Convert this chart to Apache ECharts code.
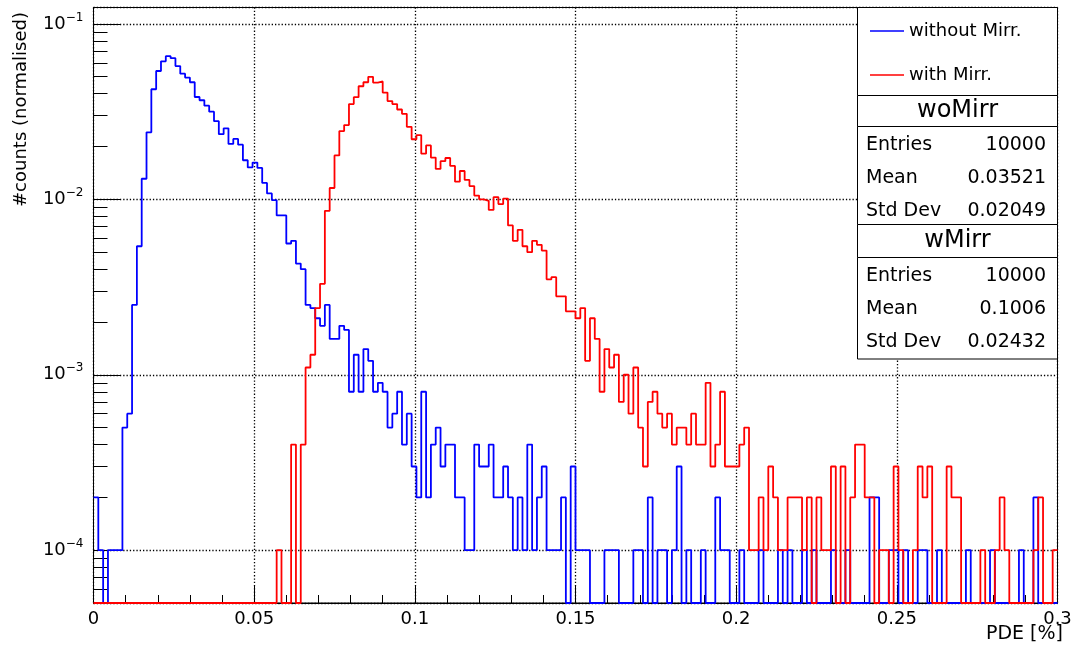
<!DOCTYPE html>
<html>
<head>
<meta charset="utf-8">
<script src="https://cdn.jsdelivr.net/npm/echarts@6/dist/echarts.min.js"></script>
<style>
html,body{margin:0;padding:0;background:#fff;}
#chart{width:1078px;height:651px;}
</style>
</head>
<body>
<div id="chart"></div>
<script>
// Histogram definition (ROOT TH1: 200 bins in [0, 0.3])
const X_MIN = 0, X_MAX = 0.3, N_BINS = 200;
const Y_MIN = 5e-5, Y_MAX = 0.124;

const seriesNames = ['without Mirr.', 'with Mirr.'];
const xTitle = 'PDE [%]';
const yTitle = '#counts (normalised)';

// bin contents (normalised), "without Mirr." (woMirr)
const woMirr = [
0.0002,0.0001,0,0.0001,0.0001,0.0001,0.0005,0.0006,0.0025,0.0054,
0.0131,0.0241,0.0424,0.0539,0.0612,0.0655,0.0638,0.0575,0.0520,0.0494,
0.0465,0.0383,0.0367,0.0342,0.0316,0.0279,0.0235,0.0254,0.0207,0.0221,
0.0205,0.0167,0.0152,0.0162,0.0151,0.0124,0.0108,0.0099,0.0081,0.0081,
0.0056,0.0058,0.0043,0.0040,0.0025,0.0024,0.0021,0.0019,0.0025,0.0016,
0.0016,0.0019,0.0018,0.0008,0.0013,0.0008,0.0014,0.0012,0.0008,0.0009,
0.0008,0.0005,0.0006,0.0008,0.0004,0.0006,0.0003,0.0002,0.0008,0.0002,
0.0004,0.0005,0.0003,0.0004,0.0004,0.0002,0.0002,0.0001,0.0001,0.0004,
0.0003,0.0003,0.0004,0.0002,0.0002,0.0003,0.0002,0.0001,0.0002,0.0001,
0.0004,0.0001,0.0002,0.0003,0.0001,0.0001,0.0001,0.0002,0,0.0003,
0.0001,0.0001,0.0001,0,0,0,0.0001,0.0001,0.0001,0,
0,0,0.0001,0.0001,0,0.0002,0,0.0001,0.0001,0,
0.0001,0.0003,0,0.0001,0,0,0.0001,0,0,0.0002,
0.0001,0.0001,0,0,0.0001,0,0,0,0.0001,0,
0,0,0.0001,0,0.0001,0,0,0.0001,0,0.0001,
0,0,0,0.0001,0,0,0.0001,0,0,0,
0,0.0002,0.0002,0,0,0.0001,0.0001,0,0.0001,0,
0,0.0001,0.0001,0,0,0.0001,0,0,0,0,
0,0.0001,0,0,0,0,0.0001,0,0,0,
0,0,0.0001,0,0,0.0002,0,0,0,0
];

// bin contents (normalised), "with Mirr." (wMirr)
const wMirr = [
0,0,0,0,0,0,0,0,0,0,
0,0,0,0,0,0,0,0,0,0,
0,0,0,0,0,0,0,0,0,0,
0,0,0,0,0,0,0,0,0.0001,0,
0,0.0004,0,0.0004,0.0011,0.0013,0.0024,0.0033,0.0086,0.0116,
0.0178,0.0245,0.0265,0.0349,0.0382,0.0441,0.0465,0.0499,0.0463,0.0470,
0.0406,0.0363,0.0349,0.0325,0.0307,0.0259,0.0220,0.0232,0.0182,0.0203,
0.0173,0.0149,0.0165,0.0172,0.0155,0.0126,0.0145,0.0129,0.0119,0.0105,
0.0100,0.0098,0.0087,0.0103,0.0094,0.0101,0.0071,0.0058,0.0067,0.0054,
0.0050,0.0058,0.0055,0.0051,0.0035,0.0036,0.0028,0.0028,0.0023,0.0023,
0.0021,0.0024,0.0012,0.0021,0.0016,0.0008,0.0014,0.0011,0.0013,0.0007,
0.0010,0.0006,0.0011,0.0005,0.0003,0.0007,0.0008,0.0006,0.0005,0.0006,
0.0004,0.0005,0.0005,0.0004,0.0006,0.0004,0.0004,0.0009,0.0003,0.0004,
0.0008,0.0003,0.0003,0.0003,0.0004,0.0005,0.0001,0.0001,0.0002,0.0001,
0.0003,0.0002,0.0001,0.0001,0.0002,0.0002,0.0002,0.0001,0.0002,0,
0.0002,0.0001,0.0001,0.0003,0,0.0003,0,0.0002,0.0004,0.0004,
0.0002,0.0002,0,0.0001,0.0001,0,0.0003,0.0001,0,0,
0.0001,0.0003,0.0002,0.0003,0,0,0,0.0003,0.0002,0.0002,
0,0,0,0,0.0001,0,0,0.0001,0.0002,0.0001,
0,0,0,0,0,0.0001,0.0002,0,0,0.0001
];

// Statistics boxes
const statTitles = ['woMirr', 'wMirr'];
const statLabels = ['Entries', 'Mean', 'Std Dev'];
const statValues = [
  ['10000', '0.03521', '0.02049'],
  ['10000', '0.1006', '0.02432']
];

// Axis ticks
const xTickInterval = 0.05;
const yMajorExps = [-4, -3, -2, -1];

const FONT = 'DejaVu Sans';
const binWidth = (X_MAX - X_MIN) / N_BINS;

function histPoints(vals) {
  // zero bins are drawn on the lower frame edge, as ROOT does on a log scale
  const pts = vals.map((v, i) => [X_MIN + i * binWidth, Math.max(v, Y_MIN)]);
  pts.push([X_MAX, Math.max(vals[vals.length - 1], Y_MIN)]);
  return pts;
}

// minor tick positions on the log axis: 2..9 x 10^n
const yMinorTicks = [];
for (let e = -5; e <= -1; e++) {
  for (let m = 2; m <= 9; m++) {
    const v = m * Math.pow(10, e);
    if (v > Y_MIN && v < Y_MAX) yMinorTicks.push(v);
  }
}

const chart = echarts.init(document.getElementById('chart'), null, {renderer: 'canvas'});

const GRID = {left: 93.5, right: 20.5, top: 7.5, bottom: 48};
const boxL = 857.5, boxR = 1057.5, boxW = boxR - boxL;
const graphics = [];
// legend box and stats boxes
const boxes = [
  [7.5, 95.5], [95.5, 126.5], [126.5, 224.5], [224.5, 257.5], [257.5, 359]
];
boxes.forEach(b => graphics.push({
  type: 'rect', z: 5,
  shape: {x: boxL, y: b[0], width: boxW, height: b[1] - b[0]},
  style: {fill: '#fff', stroke: '#000', lineWidth: 1}
}));
const titleY = [111, 241];
const rowY = [[145, 178, 211], [276, 309, 342]];
statTitles.forEach((t, s) => {
  graphics.push({type: 'text', z: 12, x: (boxL + boxR) / 2, y: titleY[s],
    style: {text: t, font: '24px "' + FONT + '"', fill: '#000', align: 'center', verticalAlign: 'middle'}});
  statLabels.forEach((lab, r) => {
    graphics.push({type: 'text', z: 12, x: 866, y: rowY[s][r],
      style: {text: lab, font: '19px "' + FONT + '"', fill: '#000', align: 'left', verticalAlign: 'middle'}});
    graphics.push({type: 'text', z: 12, x: 1046, y: rowY[s][r],
      style: {text: statValues[s][r], font: '19px "' + FONT + '"', fill: '#000', align: 'right', verticalAlign: 'middle'}});
  });
});
// axis titles (ROOT style: right-aligned at the end of each axis)
graphics.push({type: 'text', z: 12, x: 21, y: 12, rotation: Math.PI / 2,
  style: {text: yTitle, font: '18px "' + FONT + '"', fill: '#000', align: 'right', verticalAlign: 'middle'}});
graphics.push({type: 'text', z: 12, x: 1063, y: 634,
  style: {text: xTitle, font: '19px "' + FONT + '"', fill: '#000', align: 'right', verticalAlign: 'middle'}});

const option = {
  animation: false,
  backgroundColor: '#fff',
  grid: Object.assign({show: true, borderColor: '#000', borderWidth: 1, backgroundColor: 'transparent',
    containLabel: false, outerBoundsMode: 'none'}, GRID),
  legend: {
    data: seriesNames, orient: 'vertical', left: 865, top: 15,
    icon: 'rect', itemWidth: 34, itemHeight: 1.5, itemGap: 22, selectedMode: false, z: 10,
    textStyle: {fontFamily: FONT, fontSize: 18, color: '#000', lineHeight: 22}
  },
  xAxis: {
    type: 'value', min: X_MIN, max: X_MAX, interval: xTickInterval,
    axisLine: {onZero: false, lineStyle: {color: '#000', width: 1}},
    axisTick: {inside: true, length: 17, lineStyle: {color: '#000', width: 1}},
    minorTick: {show: true, splitNumber: 5, length: 8, lineStyle: {color: '#000', width: 1}},
    axisLabel: {fontFamily: FONT, fontSize: 18, color: '#000', margin: 7,
      formatter: v => (Math.abs(v) < 1e-12 ? '0' : String(+v.toFixed(4)))},
    splitLine: {show: true, lineStyle: {color: '#000', type: [1.3, 2], width: 1.3}}
  },
  yAxis: [{
    type: 'log', logBase: 10, min: Y_MIN, max: Y_MAX,
    axisLine: {show: true, lineStyle: {color: '#000', width: 1}},
    axisTick: {show: true, inside: true, length: 27, lineStyle: {color: '#000', width: 1}},
    axisLabel: {
      margin: 10, color: '#000',
      formatter: function (v) {
        const e = Math.log10(v);
        const r = Math.round(e);
        if (Math.abs(e - r) > 1e-6 || yMajorExps.indexOf(r) < 0) return '';
        return '{b|10}{s|' + (r < 0 ? '\u2212' : '') + Math.abs(r) + '}';
      },
      rich: {
        b: {fontFamily: FONT, fontSize: 18, color: '#000'},
        s: {fontFamily: FONT, fontSize: 12, color: '#000', padding: [0, 0, 13, 0]}
      }
    },
    splitLine: {show: true, lineStyle: {color: '#000', type: [1.3, 2], width: 1.3}}
  }, {
    type: 'log', logBase: 10, min: Y_MIN, max: Y_MAX, position: 'left',
    axisLine: {show: false}, axisLabel: {show: false}, splitLine: {show: false},
    axisTick: {show: true, inside: true, length: 14, customValues: yMinorTicks, lineStyle: {color: '#000', width: 1}}
  }],
  series: [{
    name: seriesNames[0], type: 'line', step: 'end', symbol: 'none', clip: true,
    data: histPoints(woMirr), yAxisIndex: 0,
    lineStyle: {color: '#0000ff', width: 1.8}, itemStyle: {color: '#0000ff'}
  }, {
    name: seriesNames[1], type: 'line', step: 'end', symbol: 'none', clip: true,
    data: histPoints(wMirr), yAxisIndex: 0,
    lineStyle: {color: '#ff0000', width: 1.8}, itemStyle: {color: '#ff0000'}
  }],
  graphic: {elements: graphics}
};
chart.setOption(option);
</script>
</body>
</html>
